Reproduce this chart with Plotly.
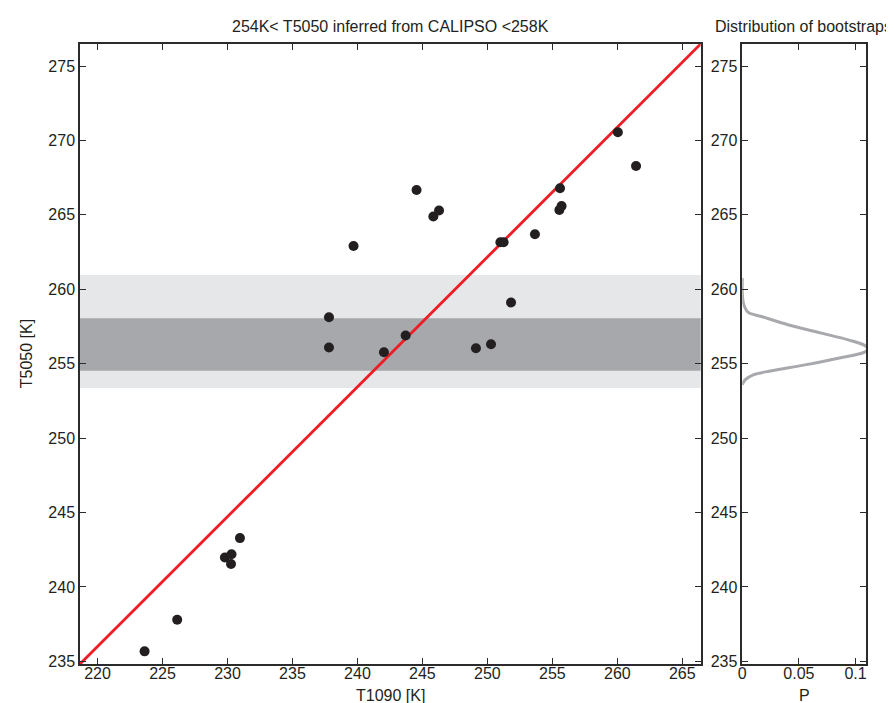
import plotly.graph_objects as go

# ---- data ----
t1090 = [223.62, 226.13, 229.80, 230.27, 230.31, 230.96,
         237.81, 237.81, 242.04, 243.71, 249.12, 250.28, 251.82,
         239.70, 244.55, 245.84, 246.28, 251.00, 251.25, 253.66,
         255.54, 255.71, 255.59, 260.04, 261.44]
t5050 = [235.67, 237.79, 241.98, 241.54, 242.20, 243.28,
         258.12, 256.09, 255.77, 256.89, 256.04, 256.31, 259.11,
         262.91, 266.67, 264.89, 265.29, 263.16, 263.16, 263.70,
         265.33, 265.60, 266.79, 270.55, 268.28]

fit_x = [218.65, 266.41]
fit_y = [234.82, 276.48]

band_outer = [253.37, 260.96]
band_inner = [254.52, 258.06]

pdf_t = [253.58, 253.91, 254.25, 254.52, 254.92, 255.37, 255.78, 256.00,
         256.23, 256.60, 257.05, 257.60, 258.17, 258.46, 259.07, 260.75]
pdf_p = [0.0, 0.0024, 0.0097, 0.0259, 0.0553, 0.0847, 0.108, 0.111,
         0.108, 0.0935, 0.070, 0.041, 0.017, 0.005, 0.001, 0.0]

x_ticks = [220, 225, 230, 235, 240, 245, 250, 255, 260, 265]
y_ticks = [235, 240, 245, 250, 255, 260, 265, 270, 275]
p_ticks = [0, 0.05, 0.1]
p_ticklabels = ["0", "0.05", "0.1"]

x_range = [218.65, 266.41]
y_range = [234.82, 276.48]
p_range = [0, 0.1092]

FONT = "Liberation Sans, Arial, sans-serif"
TXT = "#231f20"
AX = "#2b2b2b"

fig = go.Figure()

fig.add_trace(go.Scatter(x=fit_x, y=fit_y, mode="lines",
                         line=dict(color="#ee1c24", width=2.8),
                         xaxis="x", yaxis="y", showlegend=False, hoverinfo="skip"))
fig.add_trace(go.Scatter(x=t1090, y=t5050, mode="markers",
                         marker=dict(color=TXT, size=10, line=dict(width=0)),
                         xaxis="x", yaxis="y", showlegend=False))
fig.add_trace(go.Scatter(x=pdf_p, y=pdf_t, mode="lines", line_shape="spline",
                         line=dict(color="#a7a9ac", width=3),
                         xaxis="x2", yaxis="y2", showlegend=False))

for lo, hi, col in [(band_outer[0], band_outer[1], "#e6e7e8"),
                    (band_inner[0], band_inner[1], "#a7a8ab")]:
    fig.add_shape(type="rect", xref="x domain", yref="y", x0=0, x1=1, y0=lo, y1=hi,
                  fillcolor=col, line=dict(width=0), layer="below")

axis_common = dict(showline=True, linecolor=AX, linewidth=1.5, mirror="ticks",
                   ticks="inside", ticklen=6, tickwidth=1, tickcolor=AX,
                   showgrid=False, zeroline=False,
                   tickfont=dict(family=FONT, size=16, color=TXT))

fig.update_layout(
    width=894, height=703,
    margin=dict(l=72, r=36, t=36, b=47),
    paper_bgcolor="white", plot_bgcolor="white",
    font=dict(family=FONT, size=16, color=TXT),
    xaxis=dict(domain=[0, 0.7896], range=x_range, tickvals=x_ticks, anchor="y",
               ticklabelstandoff=-6, **axis_common),
    yaxis=dict(domain=[0, 1], range=y_range, tickvals=y_ticks, anchor="x", **axis_common),
    xaxis2=dict(domain=[0.8426, 1], range=p_range, tickvals=p_ticks, ticktext=p_ticklabels,
                anchor="y2", ticklabelstandoff=-6, **axis_common),
    yaxis2=dict(domain=[0, 1], range=y_range, tickvals=y_ticks, anchor="x2", **axis_common),
    annotations=[
        dict(text="254K< T5050 inferred from CALIPSO <258K", xref="paper", yref="paper",
             x=0.3948, y=1.0285, xanchor="center", yanchor="middle", showarrow=False,
             font=dict(family=FONT, size=16, color=TXT)),
        dict(text="Distribution of bootstraps", xref="paper", yref="paper",
             x=1.035, y=1.0285, xanchor="right", yanchor="middle", showarrow=False,
             font=dict(family=FONT, size=16, color=TXT)),
        dict(text="T1090 [K]", xref="paper", yref="paper",
             x=0.3948, y=-0.0500, xanchor="center", yanchor="middle", showarrow=False,
             font=dict(family=FONT, size=16, color=TXT)),
        dict(text="P", xref="paper", yref="paper",
             x=0.9213, y=-0.0500, xanchor="center", yanchor="middle", showarrow=False,
             font=dict(family=FONT, size=16, color=TXT)),
        dict(text="T5050 [K]", xref="paper", yref="paper", textangle=-90,
             x=-0.0684, y=0.5, xanchor="center", yanchor="middle", showarrow=False,
             font=dict(family=FONT, size=16, color=TXT)),
    ],
)

fig.write_html("out.html")
